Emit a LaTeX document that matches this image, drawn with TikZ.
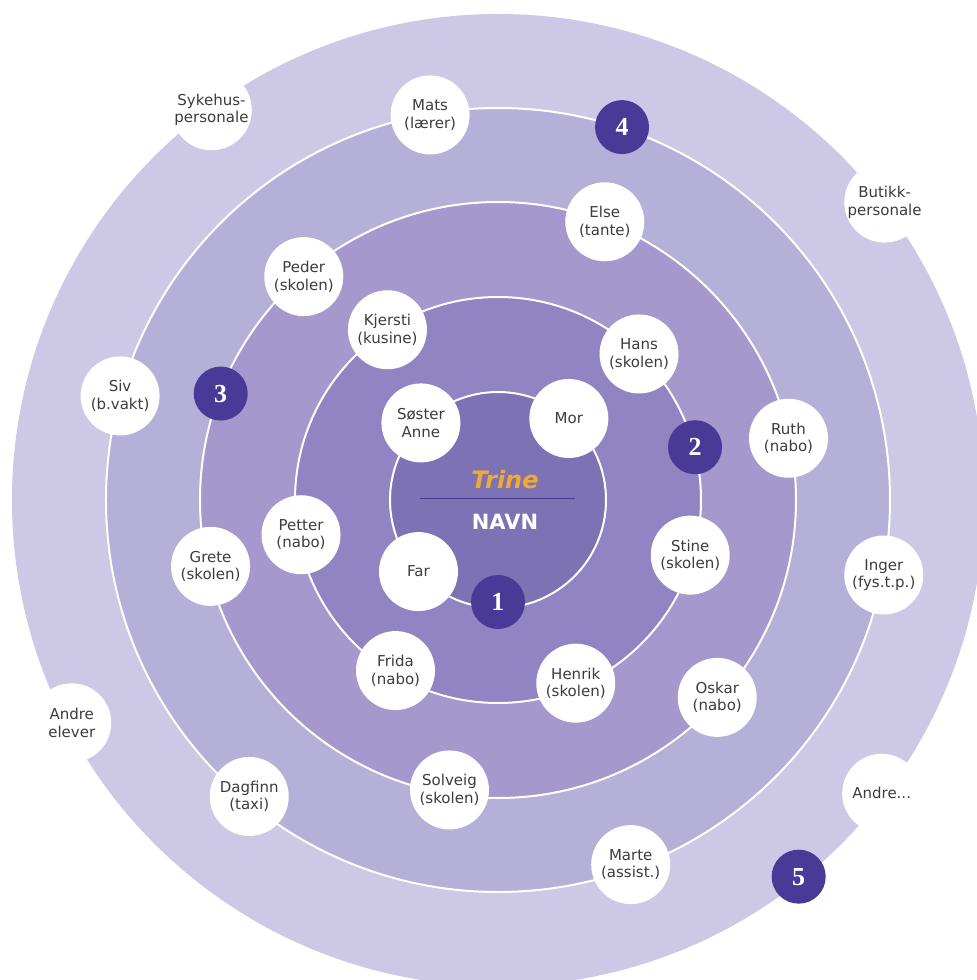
\documentclass[tikz,border=0pt]{standalone}
\usepackage{fontspec}
\setmainfont{DejaVu Sans}
\newfontfamily\badgefont{Liberation Serif}

\definecolor{ringone}{RGB}{124,114,180}
\definecolor{ringtwo}{RGB}{144,132,194}
\definecolor{ringthree}{RGB}{164,152,204}
\definecolor{ringfour}{RGB}{180,176,216}
\definecolor{ringfive}{RGB}{204,200,230}
\definecolor{badgeblue}{RGB}{72,58,150}
\definecolor{namegold}{RGB}{240,170,50}
\definecolor{textgrey}{RGB}{60,60,60}

\tikzset{
    person/.style={circle, fill=white, minimum size=79pt, inner sep=0pt,
        align=center, text=textgrey, font=\fontsize{15}{17.5}\selectfont},
    badge/.style={circle, fill=badgeblue, minimum size=54pt, inner sep=0pt,
        text=white, font=\badgefont\bfseries\fontsize{26}{26}\selectfont},
    ringline/.style={white, line width=2pt}
}

\begin{document}
\begin{tikzpicture}[x=1pt,y=1pt]
    % Fix the page to the picture
    \fill[white] (-498,-480) rectangle (479,500);
    \clip (-498,-480) rectangle (479,500);

    % Draw the rings, outside in
    \fill[ringfive] (0,0) circle (486);
    \foreach \r/\c in {392/ringfour, 298/ringthree, 203/ringtwo, 108/ringone} {
        \draw[ringline, fill=\c] (0,0) circle (\r);
    }

    % Draw the name in the middle
    \node[text=namegold, font=\bfseries\itshape\fontsize{24}{24}\selectfont] (trine) at (7,20) {Trine};
    \node[text=white, font=\bfseries\fontsize{21}{21}\selectfont] (navn) at (7,-22) {NAVN};
    \draw[badgeblue, line width=1pt] (-78,2) -- (77,2);

    % Draw the people on the rings
    \foreach \name/\a/\r/\txt in {
        mor/49/108/{Mor}, soster/135/109/{Søster\\Anne}, far/222/107/{Far},
        kjersti/123/203/{Kjersti\\(kusine)}, hans/46/203/{Hans\\(skolen)},
        stine/-16/200/{Stine\\(skolen)}, henrik/-67/199/{Henrik\\(skolen)},
        frida/239/199/{Frida\\(nabo)}, petter/190/200/{Petter\\(nabo)},
        else/69/298/{Else\\(tante)}, peder/131/296/{Peder\\(skolen)},
        grete/193/295/{Grete\\(skolen)}, solveig/260.5/294/{Solveig\\(skolen)},
        oskar/-42/295/{Oskar\\(nabo)}, ruth/12/297/{Ruth\\(nabo)},
        mats/100/391/{Mats\\(lærer)}, siv/164.6/392/{Siv\\(b.vakt)},
        dagfinn/230/387/{Dagfinn\\(taxi)}, marte/-70/388/{Marte\\(assist.)},
        inger/-11/393/{Inger\\(fys.t.p.)},
        sykehus/126.3/484/{Sykehus-\\personale}, butikk/37.6/488/{Butikk-\\personale},
        elever/207.6/481/{Andre\\elever}, andre/-37.4/483/{Andre...}} {
        \node[person] (\name) at (\a:\r) {\txt};
    }

    % Draw the numbered circles
    \foreach \n/\a/\r in {1/270/102, 2/15/204, 3/159/297, 4/71.6/393, 5/-51.4/482} {
        \node[badge] (badge\n) at (\a:\r) {\n};
    }
\end{tikzpicture}
\end{document}
